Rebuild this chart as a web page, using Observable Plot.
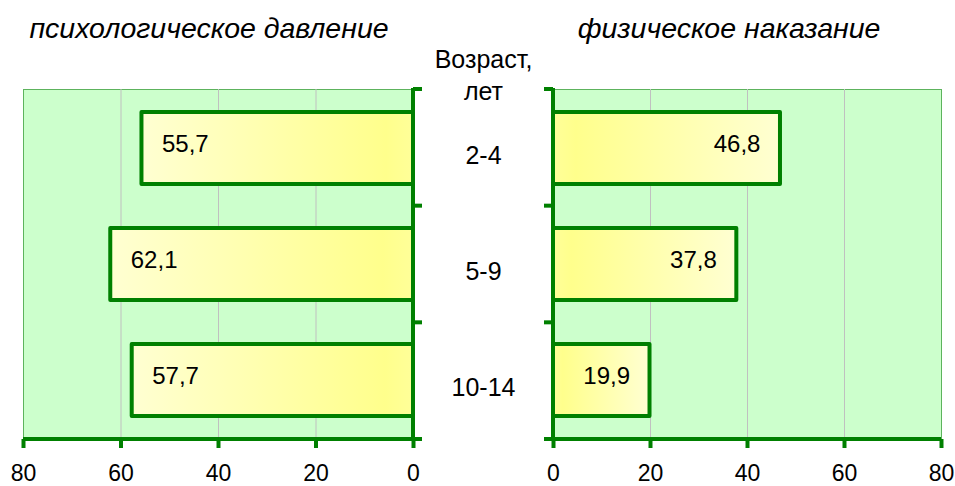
<!DOCTYPE html>
<html><head><meta charset="utf-8">
<script src="https://cdn.jsdelivr.net/npm/d3@7"></script>
<script src="https://cdn.jsdelivr.net/npm/@observablehq/plot@0.6"></script>
<style>
body{margin:0;background:#fff;font-family:Arial,"Liberation Sans",sans-serif;}
#wrap{position:relative;width:955px;height:486px;overflow:hidden;}
.title{position:absolute;top:12px;line-height:32px;font-style:italic;font-size:28.5px;text-align:center;color:#000;white-space:nowrap;}
#left,#right{position:absolute;top:45px;}
#left{left:0px} #right{left:540px}
</style></head><body>
<div id="wrap">
<div class="title" id="t1" style="left:9px;width:400px"></div>
<div class="title" id="t2" style="left:529px;width:400px"></div>
<div id="left"></div>
<div id="right"></div>
</div>
<script>
const ages = ["2-4", "5-9", "10-14"];
const psych = [55.7, 62.1, 57.7];
const phys = [46.8, 37.8, 19.9];
const xTicks = [0, 20, 40, 60, 80];
const grid = [20, 40, 60];
const titleLeft = "психологическое давление";
const titleRight = "физическое наказание";
const axisTitle = "Возраст,\nлет";

document.getElementById("t1").textContent = titleLeft;
document.getElementById("t2").textContent = titleRight;

const GREEN = "#008000";
const fmt = v => d3.format(".1f")(v).replace(".", ",");
const FONT = "Arial, 'Liberation Sans', sans-serif";

function gradient(id, outerLeft) {
  return () => {
    const defs = d3.create("svg:defs");
    const lg = defs.append("linearGradient").attr("id", id)
      .attr("x1", "0").attr("x2", "1").attr("y1", "0").attr("y2", "0");
    const light = "#FFFFD2", strong = "#FFFF8C";
    if (outerLeft) {
      lg.append("stop").attr("offset", "0").attr("stop-color", light);
      lg.append("stop").attr("offset", "0.9").attr("stop-color", strong);
      lg.append("stop").attr("offset", "1").attr("stop-color", "#FFFF99");
    } else {
      lg.append("stop").attr("offset", "0").attr("stop-color", "#FFFF99");
      lg.append("stop").attr("offset", "0.1").attr("stop-color", strong);
      lg.append("stop").attr("offset", "1").attr("stop-color", light);
    }
    return defs.node();
  };
}

function axesMark(side) {
  return (index, scales, values, dims) => {
    const g = d3.create("svg:g").attr("stroke", GREEN).attr("stroke-width", 4).attr("fill", "none");
    const x0 = scales.x(0), xMax = scales.x(80);
    const top = dims.marginTop, bottom = dims.height - dims.marginBottom;
    const dir = side === "left" ? 1 : -1;
    const t = 9;
    g.append("line").attr("x1", x0).attr("x2", x0).attr("y1", top - 1).attr("y2", bottom);
    for (let i = 0; i <= ages.length; i++) {
      const y = top + (bottom - top) * i / ages.length;
      g.append("line").attr("x1", x0).attr("x2", x0 + dir * t).attr("y1", y).attr("y2", y);
    }
    g.append("line").attr("x1", xMax).attr("x2", x0 + dir * t).attr("y1", bottom).attr("y2", bottom);
    return g.node();
  };
}

function panel(values, side) {
  const rows = ages.map((a, i) => ({age: a, value: values[i]}));
  const isLeft = side === "left";
  const gid = isLeft ? "gL" : "gR";
  const marks = [
    gradient(gid, isLeft),
    Plot.frame({fill: "#CCFFCC", stroke: "#5DB35D", strokeWidth: 1}),
    Plot.ruleX(grid, {stroke: "#C0C0C0", strokeWidth: 1}),
    Plot.barX(rows, {x: "value", y: "age", fill: `url(#${gid})`, stroke: GREEN, strokeWidth: 4, strokeLinejoin: "round"}),
    Plot.text(rows, {x: "value", y: "age", text: d => fmt(d.value), textAnchor: isLeft ? "start" : "end", dx: isLeft ? 20 : -20, dy: -4, fill: "#000", fontSize: 24}),
    Plot.axisX({ticks: xTicks, tickSize: 9, tickPadding: 16, stroke: GREEN, strokeWidth: 4, fill: "#000", fontSize: 23, label: null, tickFormat: d => String(d)}),
    axesMark(side)
  ];
  if (isLeft) {
    marks.push(Plot.text(ages, {y: d => d, frameAnchor: "right", dx: 70, dy: 7, textAnchor: "middle", fill: "#000", fontSize: 25}));
    marks.push(Plot.text([axisTitle], {frameAnchor: "top-right", dx: 70, dy: -16, lineAnchor: "middle", lineHeight: 1.28, textAnchor: "middle", fill: "#000", fontSize: 25}));
  }
  return Plot.plot({
    width: isLeft ? 540 : 415,
    height: 441,
    marginLeft: isLeft ? 23 : 13,
    marginRight: isLeft ? 127 : 14,
    marginTop: 44,
    marginBottom: 47,
    x: {domain: [0, 80], reverse: isLeft},
    y: {domain: ages, paddingInner: 0.38, paddingOuter: 0.19, axis: null},
    style: {fontFamily: FONT, fontSize: "24px", overflow: "visible", background: "transparent", color: "#000"},
    marks
  });
}

document.getElementById("left").appendChild(panel(psych, "left"));
document.getElementById("right").appendChild(panel(phys, "right"));
</script>
</body></html>
